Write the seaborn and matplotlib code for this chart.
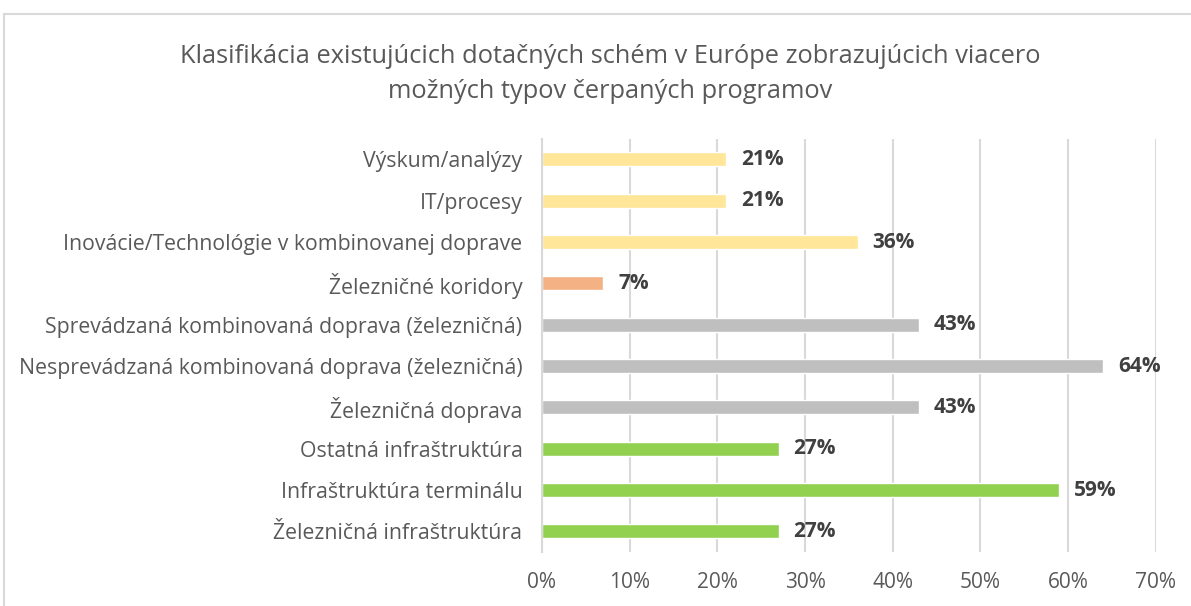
import pandas as pd
import seaborn as sns
import matplotlib.pyplot as plt
from matplotlib.patches import Rectangle

# data, top to bottom as in the chart
categories = [
    'Výskum/analýzy',
    'IT/procesy',
    'Inovácie/Technológie v kombinovanej doprave',
    'Železničné koridory',
    'Sprevádzaná kombinovaná doprava (železničná)',
    'Nesprevádzaná kombinovaná doprava (železničná)',
    'Železničná doprava',
    'Ostatná infraštruktúra',
    'Infraštruktúra terminálu',
    'Železničná infraštruktúra',
]
values = [21, 21, 36, 7, 43, 64, 43, 27, 59, 27]
groups = ['yellow', 'yellow', 'yellow', 'orange', 'gray', 'gray', 'gray', 'green', 'green', 'green']
group_colors = {'yellow': '#FFE699', 'orange': '#F4B183', 'gray': '#BFBFBF', 'green': '#92D050'}
xticks = [0, 10, 20, 30, 40, 50, 60, 70]

df = pd.DataFrame({'category': categories, 'value': values, 'group': groups})

sns.set_style('white')
plt.rcParams['font.family'] = ['Open Sans', 'DejaVu Sans']

fig = plt.figure(figsize=(11.91, 6.06), dpi=100)
ax = fig.add_axes([0.455, 0.089, 0.5155, 0.682])

sns.barplot(data=df, y='category', x='value', hue='group', palette=group_colors,
            order=categories, orient='h', width=0.34, dodge=False, legend=False,
            saturation=1, ax=ax)

ax.set_xlim(0, 70)
ax.set_xticks(xticks)
ax.set_xticklabels([f'{t}%' for t in xticks], color='#595959', fontsize=15)
ax.tick_params(axis='y', labelsize=15.3, labelcolor='#595959', length=0, pad=14)
ax.tick_params(axis='x', length=0, pad=14)
ax.set_xlabel('')
ax.set_ylabel('')
ax.xaxis.grid(True, color='#D9D9D9', linewidth=1.5)
ax.set_axisbelow(True)
for s in ['top', 'right', 'bottom']:
    ax.spines[s].set_visible(False)
ax.spines['left'].set_color('#D9D9D9')
ax.spines['left'].set_linewidth(1.5)

for i, v in enumerate(values):
    ax.text(v + 1.7, i, f'{v}%', va='center', ha='left', fontsize=15,
            fontweight='bold', color='#404040')

fig.text(0.5125, 0.878, 'Klasifikácia existujúcich dotačných schém v Európe zobrazujúcich viacero\nmožných typov čerpaných programov',
         ha='center', va='center', fontsize=18.3, color='#595959', linespacing=1.55)

# chart frame
fig.patches.append(Rectangle((4 / 1191, -0.01), 1.2, 1 - 14 / 606 + 0.01, transform=fig.transFigure,
                             fill=False, edgecolor='#D9D9D9', linewidth=1.5))

fig.savefig('out.png', dpi=100)
